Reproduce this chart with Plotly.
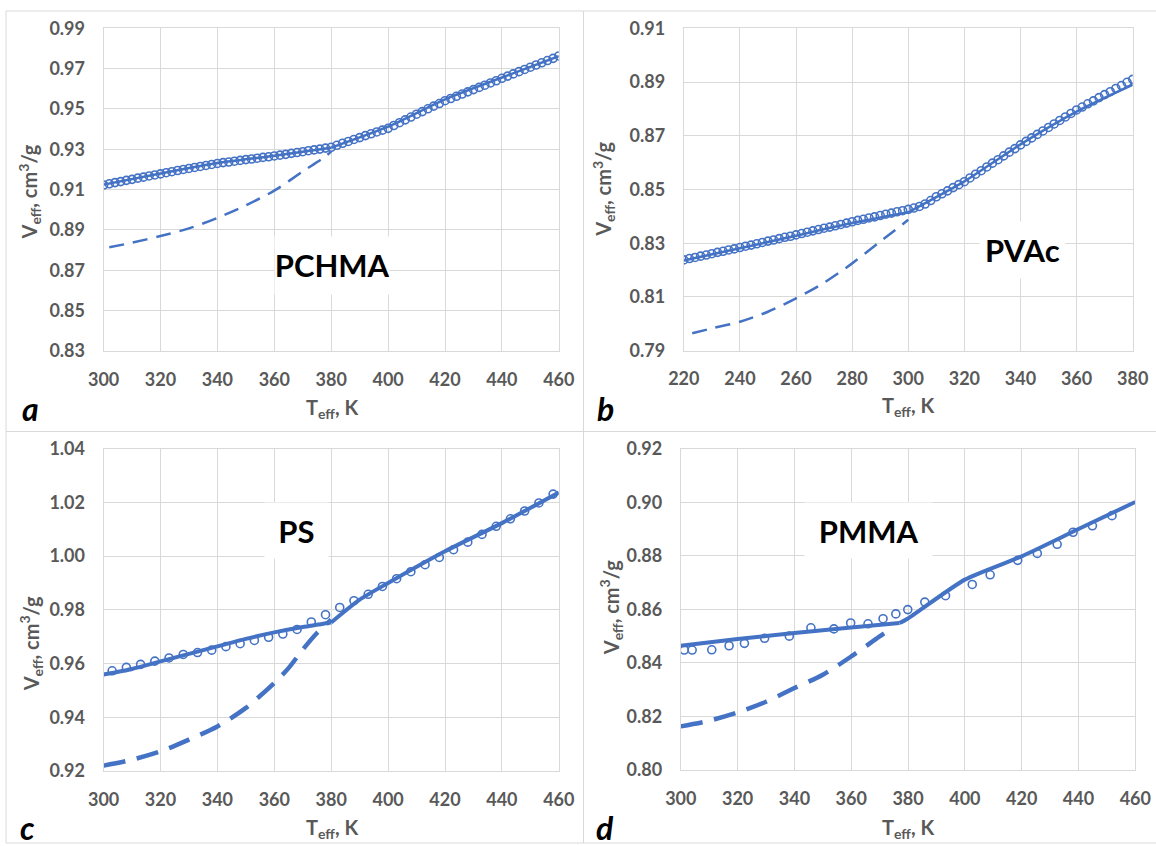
import plotly.graph_objects as go

W, H = 1156, 846
BLUE = "#4472C4"
GRID = "#d9d9d9"
TXT = "#595959"

# ---------------- Panel a: PCHMA ----------------
a_T = [300, 302, 304, 306, 308, 310, 312, 314, 316, 318, 320, 322, 324, 326, 328, 330, 332, 334, 336, 338,
       340, 342, 344, 346, 348, 350, 352, 354, 356, 358, 360, 362, 364, 366, 368, 370, 372, 374, 376, 378,
       380, 382, 384, 386, 388, 390, 392, 394, 396, 398, 400, 402, 404, 406, 408, 410, 412, 414, 416, 418,
       420, 422, 424, 426, 428, 430, 432, 434, 436, 438, 440, 442, 444, 446, 448, 450, 452, 454, 456, 458, 460]
a_V = [0.9123, 0.9129, 0.9135, 0.9140, 0.9146, 0.9151, 0.9157, 0.9162, 0.9168, 0.9173, 0.9178, 0.9184,
       0.9189, 0.9195, 0.9200, 0.9205, 0.9210, 0.9215, 0.9220, 0.9225, 0.9230, 0.9234, 0.9237, 0.9241,
       0.9245, 0.9249, 0.9252, 0.9256, 0.9260, 0.9263, 0.9267, 0.9271, 0.9275, 0.9280, 0.9284, 0.9288,
       0.9293, 0.9297, 0.9301, 0.9306, 0.9310, 0.9320, 0.9330, 0.9339, 0.9349, 0.9358, 0.9368, 0.9377,
       0.9386, 0.9395, 0.9404, 0.9418, 0.9432, 0.9446, 0.9460, 0.9474, 0.9487, 0.9501, 0.9514, 0.9527,
       0.9541, 0.9552, 0.9563, 0.9574, 0.9585, 0.9596, 0.9607, 0.9618, 0.9629, 0.9640, 0.9652, 0.9663,
       0.9674, 0.9685, 0.9696, 0.9707, 0.9718, 0.9729, 0.9740, 0.9751, 0.9763]
a_fit_glass_T = [300, 320, 340, 360, 380]
a_fit_glass_V = [0.9125, 0.9180, 0.9232, 0.9268, 0.9308]
a_fit_melt_T = [380, 400, 420, 440, 460]
a_fit_melt_V = [0.9308, 0.9412, 0.9548, 0.9656, 0.9762]
a_dash_T = [302, 310, 320, 330, 340, 350, 360, 370, 378, 380]
a_dash_V = [0.8814, 0.8837, 0.8870, 0.8908, 0.8960, 0.9022, 0.9095, 0.9190, 0.9265, 0.9290]

# ---------------- Panel b: PVAc ----------------
b_T = [220, 222, 224, 226, 228, 230, 232, 234, 236, 238, 240, 242, 244, 246, 248, 250, 252, 254, 256, 258,
       260, 262, 264, 266, 268, 270, 272, 274, 276, 278, 280, 282, 284, 286, 288, 290, 292, 294, 296, 298,
       300, 302, 304, 306, 308, 310, 312, 314, 316, 318, 320, 322, 324, 326, 328, 330, 332, 334, 336, 338,
       340, 342, 344, 346, 348, 350, 352, 354, 356, 358, 360, 362, 364, 366, 368, 370, 372, 374, 376, 378, 380]
b_V = [0.8238, 0.8243, 0.8247, 0.8252, 0.8256, 0.8261, 0.8266, 0.8270, 0.8275, 0.8279, 0.8284, 0.8289,
       0.8293, 0.8298, 0.8303, 0.8308, 0.8312, 0.8317, 0.8322, 0.8326, 0.8331, 0.8336, 0.8341, 0.8346,
       0.8351, 0.8356, 0.8360, 0.8365, 0.8370, 0.8375, 0.8380, 0.8385, 0.8389, 0.8394, 0.8398, 0.8403,
       0.8408, 0.8412, 0.8417, 0.8421, 0.8426, 0.8431, 0.8437, 0.8446, 0.8459, 0.8473, 0.8484, 0.8495,
       0.8507, 0.8518, 0.8529, 0.8543, 0.8557, 0.8570, 0.8584, 0.8598, 0.8611, 0.8625, 0.8639, 0.8652,
       0.8666, 0.8679, 0.8692, 0.8705, 0.8718, 0.8731, 0.8744, 0.8757, 0.8770, 0.8783, 0.8796, 0.8807,
       0.8819, 0.8830, 0.8842, 0.8853, 0.8864, 0.8876, 0.8887, 0.8899, 0.8910]
b_fit_glass_T = [220, 240, 260, 280, 300]
b_fit_glass_V = [0.8236, 0.8281, 0.8328, 0.8375, 0.8415]
b_fit_melt_T = [300, 320, 340, 360, 380]
b_fit_melt_V = [0.8415, 0.8530, 0.8668, 0.8790, 0.8890]
b_dash_T = [223, 230, 240, 250, 260, 270, 280, 290, 300]
b_dash_V = [0.7965, 0.7983, 0.8008, 0.8045, 0.8095, 0.8153, 0.8225, 0.8306, 0.8387]

# ---------------- Panel c: PS ----------------
c_T = [303, 308, 313, 318, 323, 328, 333, 338, 343, 348, 353, 358, 363, 368, 373, 378,
       383, 388, 393, 398, 403, 408, 413, 418, 423, 428, 433, 438, 443, 448, 453, 458]
c_V = [0.9573, 0.9586, 0.9597, 0.9609, 0.9621, 0.9634, 0.9641, 0.9650, 0.9663, 0.9674, 0.9686, 0.9698,
       0.9710, 0.9727, 0.9755, 0.9782, 0.9809, 0.9834, 0.9858, 0.9887, 0.9916, 0.9942, 0.9968, 0.9995,
       1.0024, 1.0052, 1.0081, 1.0111, 1.0139, 1.0168, 1.0198, 1.0231]
c_fit_glass_T = [300, 310, 320, 330, 340, 350, 360, 370, 380]
c_fit_glass_V = [0.9559, 0.9580, 0.9608, 0.9636, 0.9664, 0.9692, 0.9716, 0.9736, 0.9753]
c_fit_melt_T = [380, 390, 400, 420, 440, 460]
c_fit_melt_V = [0.9753, 0.9838, 0.9900, 1.0018, 1.0123, 1.0237]
c_dash_T = [300, 310, 320, 330, 340, 350, 360, 365, 370, 375, 380]
c_dash_V = [0.9220, 0.9242, 0.9273, 0.9317, 0.9366, 0.9435, 0.9528, 0.9583, 0.9652, 0.9714, 0.9763]

# ---------------- Panel d: PMMA ----------------
d_T = [301.2, 304, 310.9, 317, 322.4, 329.5, 338.2, 345.8, 353.9, 359.8, 365.9, 371.2,
       375.7, 379.9, 385.9, 393.2, 402.6, 408.9, 418.6, 425.5, 432.5, 438.1, 444.9, 451.8]
d_V = [0.8448, 0.8448, 0.8449, 0.8464, 0.8473, 0.8492, 0.8500, 0.8531, 0.8527, 0.8549, 0.8546, 0.8565,
       0.8583, 0.8599, 0.8627, 0.8651, 0.8693, 0.8729, 0.8783, 0.8809, 0.8843, 0.8888, 0.8912, 0.8950]
d_fit_glass_T = [300, 320, 340, 360, 377]
d_fit_glass_V = [0.8464, 0.8489, 0.8512, 0.8532, 0.8549]
d_fit_melt_T = [377, 380, 400, 420, 440, 460]
d_fit_melt_V = [0.8549, 0.8566, 0.8711, 0.8798, 0.8900, 0.9001]
d_dash_T = [300, 310, 320, 330, 340, 350, 360, 370, 375]
d_dash_V = [0.8163, 0.8184, 0.8215, 0.8255, 0.8306, 0.8356, 0.8424, 0.8499, 0.8535]

# ---------------- axes / ticks ----------------
a_xticks = [300, 320, 340, 360, 380, 400, 420, 440, 460]
a_yticks = [0.83, 0.85, 0.87, 0.89, 0.91, 0.93, 0.95, 0.97, 0.99]
b_xticks = [220, 240, 260, 280, 300, 320, 340, 360, 380]
b_yticks = [0.79, 0.81, 0.83, 0.85, 0.87, 0.89, 0.91]
c_xticks = [300, 320, 340, 360, 380, 400, 420, 440, 460]
c_yticks = [0.92, 0.94, 0.96, 0.98, 1.00, 1.02, 1.04]
d_xticks = [300, 320, 340, 360, 380, 400, 420, 440, 460]
d_yticks = [0.80, 0.82, 0.84, 0.86, 0.88, 0.90, 0.92]

panel_names = ["PCHMA", "PVAc", "PS", "PMMA"]
panel_letters = ["a", "b", "c", "d"]


def px(x):
    return x / W


def py(y):
    return 1 - y / H


# plot-area pixel boxes (left, right, top, bottom)
boxes = [(103.6, 558.8, 28.3, 351.0),
         (683.8, 1132.7, 28.3, 350.7),
         (103.6, 558.8, 448.7, 771.0),
         (680.8, 1135.3, 448.7, 770.0)]

fig = go.Figure()

panels = [
    dict(T=a_T, V=a_V, gT=a_fit_glass_T, gV=a_fit_glass_V, mT=a_fit_melt_T, mV=a_fit_melt_V,
         dT=a_dash_T, dV=a_dash_V, xt=a_xticks, yt=a_yticks, lw=2.5, dw=2.5, dash="15px,9px", ms=8),
    dict(T=b_T, V=b_V, gT=b_fit_glass_T, gV=b_fit_glass_V, mT=b_fit_melt_T, mV=b_fit_melt_V,
         dT=b_dash_T, dV=b_dash_V, xt=b_xticks, yt=b_yticks, lw=2.5, dw=2.5, dash="15px,9px", ms=8),
    dict(T=c_T, V=c_V, gT=c_fit_glass_T, gV=c_fit_glass_V, mT=c_fit_melt_T, mV=c_fit_melt_V,
         dT=c_dash_T, dV=c_dash_V, xt=c_xticks, yt=c_yticks, lw=4, dw=4.5, dash="22px,12px", ms=8),
    dict(T=d_T, V=d_V, gT=d_fit_glass_T, gV=d_fit_glass_V, mT=d_fit_melt_T, mV=d_fit_melt_V,
         dT=d_dash_T, dV=d_dash_V, xt=d_xticks, yt=d_yticks, lw=4, dw=4.5, dash="22px,12px", ms=8),
]

tickfont = dict(family="Lato", size=18, color=TXT, weight="bold")

for i, p in enumerate(panels):
    n = "" if i == 0 else str(i + 1)
    xa, ya = "x" + n, "y" + n
    # fitted lines
    fig.add_trace(go.Scatter(x=p["gT"], y=p["gV"], mode="lines", line=dict(color=BLUE, width=p["lw"], shape="spline", smoothing=0.6),
                             xaxis=xa, yaxis=ya, showlegend=False, hoverinfo="skip"))
    fig.add_trace(go.Scatter(x=p["mT"], y=p["mV"], mode="lines", line=dict(color=BLUE, width=p["lw"], shape="spline", smoothing=0.6),
                             xaxis=xa, yaxis=ya, showlegend=False, hoverinfo="skip"))
    fig.add_trace(go.Scatter(x=p["dT"], y=p["dV"], mode="lines", line=dict(color=BLUE, width=p["dw"], dash=p["dash"], shape="spline", smoothing=0.8),
                             xaxis=xa, yaxis=ya, showlegend=False, hoverinfo="skip"))
    fig.add_trace(go.Scatter(x=p["T"], y=p["V"], mode="markers",
                             marker=dict(symbol="circle-open", size=p["ms"], color=BLUE, line=dict(width=1.6, color=BLUE)),
                             xaxis=xa, yaxis=ya, showlegend=False, hoverinfo="skip"))

    l, r, t, b = boxes[i]
    xt, yt = p["xt"], p["yt"]
    axis_common = dict(showgrid=True, gridcolor=GRID, gridwidth=1, zeroline=False,
                       showline=True, mirror=True, linecolor=GRID, linewidth=1,
                       ticks="", tickfont=tickfont, fixedrange=True, automargin=False)
    fig.update_layout(**{
        ("xaxis" + n): dict(domain=[px(l), px(r)], range=[xt[0], xt[-1]], tickvals=xt,
                            ticktext=[str(v) for v in xt], anchor=ya, ticklabelstandoff=12, **axis_common),
        ("yaxis" + n): dict(domain=[py(b), py(t)], range=[yt[0], yt[-1]], tickvals=yt,
                            ticktext=["%.2f" % v for v in yt], anchor=xa, ticklabelstandoff=14, **axis_common),
    })

annotations = []
shapes = []

# axis titles
xtitle_pos = [(331.7, 408.3), (907.9, 406.7), (331.7, 828.0), (907.9, 828.0)]
ytitle_pos = [(29.5, 192.0), (603.8, 189.0), (31.3, 644.0), (611.2, 608.0)]
title_font = dict(family="Lato", size=20, color=TXT, weight="bold")
for (x, y) in xtitle_pos:
    annotations.append(dict(text="T<sub>eff</sub>, K", x=px(x), y=py(y), xref="paper", yref="paper",
                            showarrow=False, font=title_font, xanchor="center", yanchor="middle"))
for (x, y) in ytitle_pos:
    annotations.append(dict(text="V<sub>eff</sub>, cm<sup>3</sup>/g", x=px(x), y=py(y), xref="paper", yref="paper",
                            showarrow=False, font=title_font, textangle=-90, xanchor="center", yanchor="middle"))

# polymer labels in white boxes
label_boxes = [(274.6, 388.9, 236.7, 293.3), (979.8, 1064.5, 221.7, 278.0),
               (265.4, 328.0, 503.0, 558.0), (804.7, 931.9, 503.0, 558.0)]
for name, (l, r, t, b) in zip(panel_names, label_boxes):
    annotations.append(dict(text=name, x=px((l + r) / 2), y=py((t + b) / 2), xref="paper", yref="paper",
                            showarrow=False, bgcolor="white", width=r - l, height=b - t, borderpad=0,
                            font=dict(family="Lato", size=31, color="black", weight="bold"),
                            xanchor="center", yanchor="middle"))

# panel letters
letter_pos = [(30, 408), (605, 408), (27, 827), (605, 827)]
for let, (x, y) in zip(panel_letters, letter_pos):
    annotations.append(dict(text="<b><i>%s</i></b>" % let, x=px(x), y=py(y), xref="paper", yref="paper",
                            showarrow=False, font=dict(family="Lato", size=32, color="black"),
                            xanchor="center", yanchor="middle"))

# panel frames
frames = [(6, 583.5, 11, 431.5), (583.5, 1160, 11, 431.5), (6, 583.5, 431.5, 843), (583.5, 1160, 431.5, 843)]
for (l, r, t, b) in frames:
    shapes.append(dict(type="rect", xref="paper", yref="paper", x0=px(l), x1=px(r), y0=py(b), y1=py(t),
                       line=dict(color=GRID, width=1), layer="below"))

fig.update_layout(width=W, height=H, margin=dict(l=0, r=0, t=0, b=0),
                  paper_bgcolor="white", plot_bgcolor="white",
                  annotations=annotations, shapes=shapes, showlegend=False)

fig.write_html("out.html", config={"displayModeBar": False},
               post_script="document.body.style.margin='0px';document.body.style.padding='0px';document.body.style.overflow='hidden';")
